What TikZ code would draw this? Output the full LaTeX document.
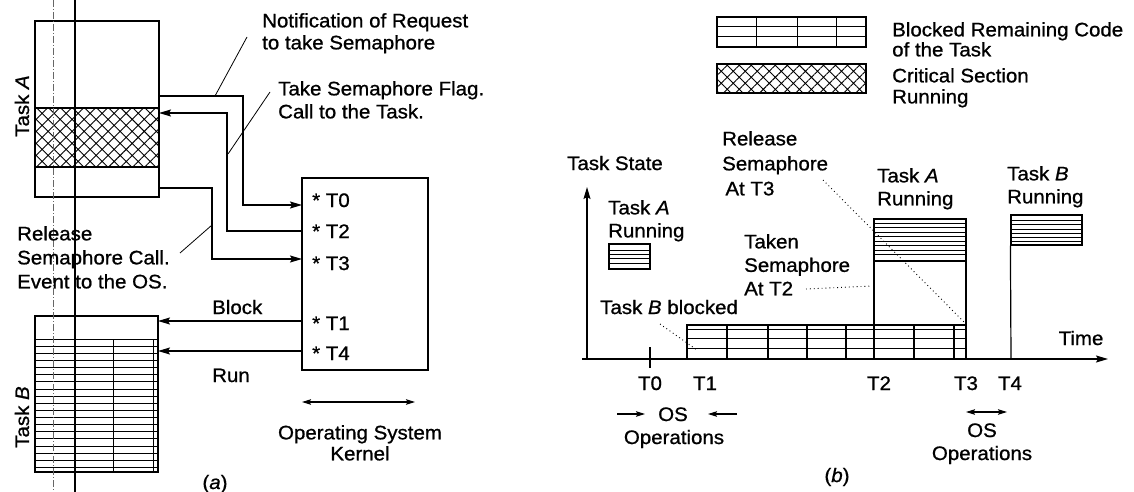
\documentclass[tikz,border=0pt]{standalone}
\usepackage{fontspec}
\setmainfont{Liberation Sans}[FakeStretch=1.05,FakeBold=0.9]
\usetikzlibrary{arrows.meta,patterns.meta}
\begin{document}
\begin{tikzpicture}[x=1pt,y=-1pt,
  every node/.style={inner sep=0pt, font=\fontsize{19.5}{23}\selectfont},
  ln/.style={line width=1.2pt},
  thl/.style={line width=0.8pt},
  arr/.style={line width=1.2pt, -{Stealth[length=12pt,width=7pt,inset=2pt]}},
  sarr/.style={line width=1.1pt, -{Stealth[length=9pt,width=5.5pt,inset=1.5pt]}},
  darr/.style={line width=1.1pt, {Stealth[length=9pt,width=5.5pt,inset=1.5pt]}-{Stealth[length=9pt,width=5.5pt,inset=1.5pt]}},
  dotl/.style={line width=0.9pt, dash pattern=on 0.9pt off 3pt},
  xh/.style={pattern={Hatch[distance=8.5pt,angle=45,line width=0.9pt]}},
  boxn/.style={draw, line width=1.2pt}
]
\useasboundingbox (0,0) rectangle (1134,492);
\fill[white] (0,0) rectangle (1134,492);

% ---------------- (a) ----------------
% Task A
\fill[xh] (35,108) rectangle (159,167);
\node[boxn, minimum width=124pt, minimum height=176pt] (taskA) at (97,109) {};
\draw[ln] (35,108) -- (159,108);
\draw[ln] (35,167) -- (159,167);
\node[rotate=90] (lblA) at (22,106) {Task \textit{A}};

% Task B
\foreach \k in {0,...,18} \draw[thl] (35,{339+\k*7.13}) -- (158,{339+\k*7.13});
\draw[thl] (113,339) -- (113,472);
\draw[thl] (153,339) -- (153,472);
\node[boxn, minimum width=123pt, minimum height=156pt] (taskB) at (96.5,394) {};
\node[rotate=90] (lblB) at (22,417) {Task \textit{B}};

% scan lines
\draw[line width=1.6pt] (75,0) -- (75,492);
\draw[line width=0.5pt, black!60, dash pattern=on 7pt off 2pt on 1pt off 2pt] (53,0) -- (53,492);

% Kernel
\node[boxn, minimum width=126pt, minimum height=192pt] (kern) at (365,274) {};
\node[anchor=base west] (t0) at (312,207) {* T0};
\node[anchor=base west] (t2) at (312,238) {* T2};
\node[anchor=base west] (t3) at (312,270) {* T3};
\node[anchor=base west] (t1) at (312,330) {* T1};
\node[anchor=base west] (t4) at (312,360) {* T4};

\coordinate (a1) at (159,96);
\coordinate (a2) at (159,113);
\coordinate (a3) at (159,188);
\coordinate (k0) at (302,205);
\coordinate (k2) at (302,231);
\coordinate (k3) at (302,259);
\coordinate (k1) at (302,321);
\coordinate (k4) at (302,351);
\coordinate (b1) at (158,321);
\coordinate (b4) at (158,351);
\draw[arr] (a1) -| (243,205) -- (k0);
\draw[arr] (k2) -- (227,231) |- (a2);
\draw[arr] (a3) -| (212,259) -- (k3);
\draw[arr] (k1) -- (b1);
\draw[arr] (k4) -- (b4);

\node[anchor=north west, align=left, font=\fontsize{19.5}{22}\selectfont] (notif) at (262,13) {Notification of Request\\to take Semaphore};
\node[anchor=north west, align=left, font=\fontsize{19.5}{23}\selectfont] (flag) at (278,81) {Take Semaphore Flag.\\Call to the Task.};
\node[anchor=north west, align=left, font=\fontsize{19.5}{24}\selectfont] (rel) at (17,226) {Release\\Semaphore Call.\\Event to the OS.};
\draw[thl] (215,96) -- (247,37);
\draw[thl] (228,154) -- (270,92);
\draw[thl] (212,225) -- (180,253);
\node[anchor=base west] (blk) at (212,314) {Block};
\node[anchor=base west] (run) at (212,382) {Run};

\coordinate (kl) at (302,402);
\coordinate (kr) at (415,402);
\draw[darr] (kl) -- (kr);
\node[anchor=north, align=center, font=\fontsize{19.5}{21}\selectfont] (osk) at (360,425) {Operating System\\Kernel};
\node[anchor=base] (capa) at (215,489) {(\textit{a})};

% ---------------- (b) ----------------
% legend
\draw[thl] (717,26) -- (866,26);
\draw[thl] (717,36) -- (866,36);
\foreach \x in {756,797,836} \draw[thl] (\x,17) -- (\x,47);
\node[boxn, minimum width=149pt, minimum height=30pt] (legB) at (791.5,32) {};
\fill[xh] (717,64) rectangle (866,93);
\node[boxn, minimum width=149pt, minimum height=29pt] (legX) at (791.5,78.5) {};
\node[anchor=north west, align=left, font=\fontsize{19.5}{20}\selectfont] (legBt) at (892,22) {Blocked Remaining Code\\of the Task};
\node[anchor=north west, align=left, font=\fontsize{19.5}{21}\selectfont] (legXt) at (892,68) {Critical Section\\Running};

% axes
\coordinate (o) at (587,359);
\coordinate (ytop) at (587,187);
\coordinate (xl) at (582,359);
\coordinate (xr) at (1108,359);
\draw[arr] (o) -- (ytop);
\draw[arr] (xl) -- (xr);
\node[anchor=base] (tstate) at (615,170) {Task State};
\node[anchor=base] (time) at (1081,345) {Time};

% small task A running
\foreach \y in {250,254,258,263} \draw[thl] (609,\y) -- (650,\y);
\node[boxn, minimum width=41pt, minimum height=25pt] (smallA) at (629.5,256.5) {};
\node[anchor=north west, align=left, font=\fontsize{19.5}{23}\selectfont] (tar1) at (608,200) {Task \textit{A}\\Running};

% blocked bar
\foreach \y in {329,338,348} \draw[thl] (687,\y) -- (966,\y);
\foreach \x in {727,768,807,846,914,954} \draw[ln] (\x,325) -- (\x,359);
\node[boxn, minimum width=279pt, minimum height=34pt] (bar) at (826.5,342) {};

% task A running tall
\foreach \y in {223,227.5,232,236.5,241,245.5,250,254.5} \draw[thl] (874,\y) -- (966,\y);
\draw[ln] (874,261) -- (966,261);
\node[boxn, minimum width=92pt, minimum height=140pt] (tallA) at (920,289) {};
\node[anchor=north west, align=left, font=\fontsize{19.5}{23}\selectfont] (tar2) at (877,168) {Task \textit{A}\\Running};

% task B running
\foreach \y in {220,224,229,233,237,241} \draw[thl] (1011,\y) -- (1082,\y);
\node[boxn, minimum width=71pt, minimum height=30pt] (runB) at (1046.5,230) {};
\coordinate (rbb) at (1011,359);
\draw[ln] (runB.south west) -- (rbb);
\node[anchor=north west, align=left, font=\fontsize{19.5}{23}\selectfont] (tbr) at (1007,166) {Task \textit{B}\\Running};

% annotations
\node[anchor=north west, align=left, font=\fontsize{19.5}{25}\selectfont] (relT3) at (722,131) {Release\\Semaphore\\\,At T3};
\node[anchor=north west, align=left, font=\fontsize{19.5}{23.5}\selectfont] (takT2) at (744,234) {Taken\\Semaphore\\At T2};
\node[anchor=base west] (tbb) at (600,314) {Task \textit{B} blocked};
\draw[dotl] (823,180) -- (964,322);
\draw[dotl] (806,289) -- (872,286);
\draw[dotl] (660,324) -- (697,350);

% ticks and time labels
\coordinate (tk0a) at (650,347);
\coordinate (tk0b) at (650,368);
\draw[ln] (tk0a) -- (tk0b);
\node[anchor=base] (lT0) at (650,390) {T0};
\node[anchor=base] (lT1) at (705,390) {T1};
\node[anchor=base] (lT2) at (879,390) {T2};
\node[anchor=base] (lT3) at (966,390) {T3};
\node[anchor=base] (lT4) at (1010,390) {T4};

% OS operations
\node[anchor=base] (os1) at (673,421) {OS};
\node[anchor=base] (op1) at (674,444) {Operations};
\coordinate (o1a) at (617,414);
\coordinate (o1b) at (645,414);
\coordinate (o1c) at (737,414);
\coordinate (o1d) at (708,414);
\draw[sarr] (o1a) -- (o1b);
\draw[sarr] (o1c) -- (o1d);
\coordinate (o2a) at (966,412);
\coordinate (o2b) at (1007,412);
\draw[darr] (o2a) -- (o2b);
\node[anchor=base] (os2) at (982,437) {OS};
\node[anchor=base] (op2) at (982,460) {Operations};
\node[anchor=base] (capb) at (837,482) {(\textit{b})};
\end{tikzpicture}
\end{document}
